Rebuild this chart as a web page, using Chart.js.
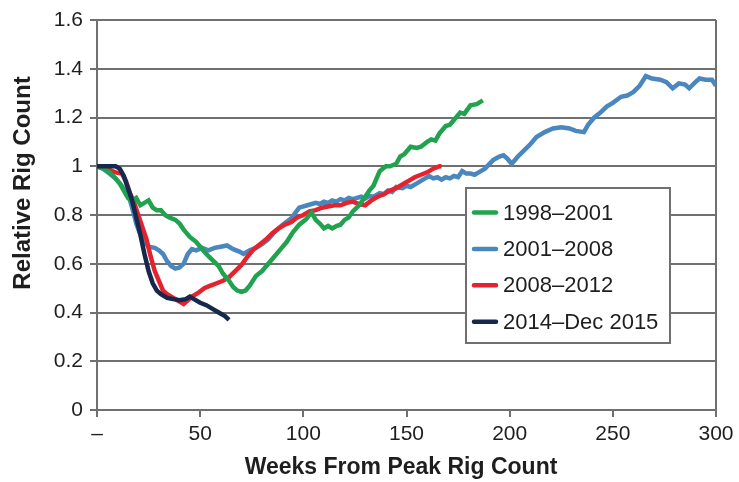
<!DOCTYPE html>
<html>
<head>
<meta charset="utf-8">
<script src="https://cdn.jsdelivr.net/npm/chart.js@4/dist/chart.umd.min.js"></script>
<style>
  html, body { margin: 0; padding: 0; background: #fff; }
  #chart { display: block; }
</style>
</head>
<body>
<canvas id="chart" width="739" height="482"></canvas>
<script>
// weeks from peak + relative rig count
const seriesLabels = ['1998\u20132001', '2001\u20132008', '2008\u20132012', '2014\u2013Dec 2015'];
const seriesColors = ['#20a24e', '#4a87be', '#e4232f', '#16284b'];

const weeks9801 = [0, 3, 6, 9, 11, 13, 15, 17, 19, 21, 23, 25, 27, 29, 31, 33, 35, 38, 40, 42, 45, 48, 50, 53, 56, 59, 61, 64, 66, 68, 70, 72, 74, 77, 80, 83, 86, 89, 92, 95, 98, 101, 104, 106, 108, 110, 112, 114, 116, 118, 120, 122, 124, 127, 130, 132, 134, 137, 140, 142, 145, 147, 149, 152, 155, 157, 160, 162, 164, 166, 169, 171, 173, 176, 178, 181, 184, 187];
const vals9801 = [1.0, 0.99, 0.975, 0.95, 0.93, 0.9, 0.87, 0.86, 0.87, 0.84, 0.85, 0.86, 0.83, 0.82, 0.82, 0.8, 0.79, 0.78, 0.765, 0.74, 0.71, 0.69, 0.67, 0.64, 0.615, 0.59, 0.56, 0.53, 0.505, 0.49, 0.485, 0.49, 0.51, 0.55, 0.57, 0.6, 0.63, 0.66, 0.69, 0.73, 0.76, 0.78, 0.81, 0.78, 0.765, 0.745, 0.755, 0.745, 0.755, 0.76, 0.78, 0.79, 0.815, 0.84, 0.875, 0.9, 0.92, 0.98, 1.0, 1.0, 1.01, 1.04, 1.05, 1.08, 1.075, 1.08, 1.1, 1.11, 1.105, 1.135, 1.165, 1.17, 1.19, 1.22, 1.215, 1.25, 1.255, 1.27];

const weeks0108 = [0, 3, 6, 9, 12, 14, 16, 18, 19, 21, 23, 25, 28, 30, 32, 34, 36, 38, 40, 42, 44, 46, 48, 51, 54, 57, 60, 63, 66, 69, 71, 74, 77, 80, 83, 86, 90, 94, 98, 102, 106, 108, 110, 112, 114, 116, 118, 120, 122, 124, 126, 128, 130, 132, 134, 137, 139, 141, 143, 145, 148, 150, 152, 155, 158, 161, 163, 165, 167, 169, 171, 173, 175, 177, 179, 181, 183, 185, 188, 192, 195, 197, 199, 201, 204, 207, 210, 213, 217, 221, 225, 229, 232, 236, 238, 241, 244, 247, 250, 254, 257, 260, 263, 266, 269, 273, 276, 279, 282, 285, 287, 290, 292, 295, 298, 300];
const vals0108 = [1.0, 0.99, 0.97, 0.95, 0.92, 0.89, 0.86, 0.8, 0.765, 0.72, 0.69, 0.67, 0.665, 0.655, 0.64, 0.61, 0.59, 0.58, 0.585, 0.6, 0.64, 0.66, 0.655, 0.665, 0.655, 0.665, 0.67, 0.675, 0.66, 0.65, 0.64, 0.655, 0.665, 0.68, 0.7, 0.73, 0.76, 0.785, 0.83, 0.84, 0.85, 0.845, 0.855, 0.85, 0.86, 0.855, 0.865, 0.86, 0.87, 0.865, 0.87, 0.875, 0.868, 0.878, 0.875, 0.89, 0.885, 0.9, 0.895, 0.915, 0.91, 0.92, 0.915, 0.93, 0.945, 0.96, 0.95, 0.955, 0.945, 0.955, 0.95, 0.96, 0.955, 0.98, 0.97, 0.97, 0.965, 0.975, 0.99, 1.025, 1.04, 1.045, 1.03, 1.01, 1.04, 1.065, 1.09, 1.12, 1.14, 1.155, 1.16, 1.155, 1.145, 1.14, 1.17, 1.2, 1.22, 1.245, 1.26, 1.285, 1.29, 1.305, 1.33, 1.37, 1.36, 1.355, 1.345, 1.32, 1.34, 1.335, 1.32, 1.345, 1.36, 1.355, 1.355, 1.33];

const weeks0812 = [0, 3, 6, 9, 12, 14, 16, 18, 20, 22, 24, 26, 28, 30, 32, 34, 37, 40, 42, 44, 46, 49, 52, 55, 58, 61, 64, 67, 70, 73, 76, 79, 82, 85, 88, 91, 94, 97, 100, 103, 106, 109, 112, 115, 118, 121, 124, 127, 130, 133, 136, 139, 142, 145, 148, 151, 154, 157, 160, 163, 166, 167];
const vals0812 = [1.0, 0.995, 0.985, 0.975, 0.97, 0.94, 0.89, 0.85, 0.8, 0.75, 0.7, 0.63, 0.57, 0.53, 0.49, 0.475, 0.46, 0.445, 0.435, 0.45, 0.465, 0.48, 0.5, 0.51, 0.52, 0.53, 0.545, 0.57, 0.595, 0.63, 0.66, 0.68, 0.7, 0.725, 0.745, 0.76, 0.77, 0.79, 0.8, 0.815, 0.82, 0.83, 0.835, 0.84, 0.84, 0.85, 0.855, 0.845, 0.84, 0.86, 0.875, 0.885, 0.9, 0.91, 0.925, 0.94, 0.955, 0.965, 0.975, 0.99, 1.0, 1.0];

const weeks1415 = [0, 3, 6, 9, 11, 13, 15, 17, 19, 21, 23, 25, 27, 29, 31, 34, 37, 40, 43, 45, 47, 50, 53, 56, 59, 62, 64];
const vals1415 = [1.0, 1.0, 1.0, 1.0, 0.99, 0.96, 0.91, 0.86, 0.79, 0.72, 0.64, 0.57, 0.52, 0.49, 0.475, 0.46, 0.455, 0.45, 0.455, 0.465, 0.455, 0.44, 0.43, 0.415, 0.4, 0.385, 0.37];

const xTicks = [0, 50, 100, 150, 200, 250, 300];
const yTicks = [0, 0.2, 0.4, 0.6, 0.8, 1, 1.2, 1.4, 1.6];

const allWeeks = [weeks9801, weeks0108, weeks0812, weeks1415];
const allVals = [vals9801, vals0108, vals0812, vals1415];
const drawOrder = [1, 3, 2, 0]; // dark line on top, then green, red, blue

const GRID = '#707070';
const TEXT = '#1e1e1e';

const datasets = seriesLabels.map((label, i) => ({
    label,
    data: allWeeks[i].map((w, j) => ({ x: w, y: allVals[i][j] })),
    borderColor: seriesColors[i],
    borderWidth: 4.5,
    pointRadius: 0,
    tension: 0,
    order: drawOrder[i]
}));

// legend box and axis titles drawn by hand so they sit where the figure has them
const extrasPlugin = {
    id: 'extras',
    afterDatasetsDraw(chart) {
        const ctx = chart.ctx;
        ctx.save();
        ctx.fillStyle = '#fff';
        ctx.fillRect(466, 188, 204, 155);
        ctx.strokeStyle = GRID;
        ctx.lineWidth = 2;
        ctx.strokeRect(466, 188, 204, 155);
        ctx.font = '22px "Liberation Sans", Arial, sans-serif';
        ctx.textBaseline = 'middle';
        ctx.textAlign = 'left';
        seriesLabels.forEach((label, i) => {
            const y = 212.5 + i * 36.4;
            ctx.strokeStyle = seriesColors[i];
            ctx.lineWidth = 4.5;
            ctx.lineCap = 'round';
            ctx.beginPath();
            ctx.moveTo(474, y);
            ctx.lineTo(496, y);
            ctx.stroke();
            ctx.fillStyle = TEXT;
            ctx.fillText(label, 503, y + 1);
        });
        ctx.restore();
    },
    afterDraw(chart) {
        const ctx = chart.ctx;
        ctx.save();
        ctx.fillStyle = TEXT;
        ctx.textAlign = 'center';
        ctx.textBaseline = 'middle';
        ctx.font = 'bold 23px "Liberation Sans", Arial, sans-serif';
        ctx.fillText('Weeks From Peak Rig Count', 401, 468);
        ctx.translate(23, 183);
        ctx.rotate(-Math.PI / 2);
        ctx.font = 'bold 24px "Liberation Sans", Arial, sans-serif';
        ctx.fillText('Relative Rig Count', 0, 0);
        ctx.restore();
    }
};

new Chart(document.getElementById('chart').getContext('2d'), {
    type: 'line',
    data: { datasets },
    options: {
        responsive: false,
        animation: false,
        layout: { padding: { top: 20, right: 23, left: 0, bottom: 0 } },
        plugins: { legend: { display: false }, tooltip: { enabled: false } },
        scales: {
            x: {
                type: 'linear',
                min: 0,
                max: 300,
                afterFit: s => { s.height = 72; },
                afterBuildTicks: s => { s.ticks = xTicks.map(v => ({ value: v })); },
                ticks: {
                    color: TEXT,
                    font: { family: '"Liberation Sans", Arial, sans-serif', size: 21 },
                    padding: 5,
                    maxRotation: 0,
                    callback: v => (v === 0 ? '\u2013' : v)
                },
                grid: {
                    color: c => (c.tick && c.tick.value === 300 ? GRID : 'transparent'),
                    lineWidth: 2,
                    tickColor: GRID,
                    tickWidth: 2,
                    tickLength: 7
                },
                border: { display: true, color: GRID, width: 2 }
            },
            y: {
                min: 0,
                max: 1.6,
                afterFit: s => { s.width = 97; },
                afterBuildTicks: s => { s.ticks = yTicks.map(v => ({ value: v })); },
                ticks: {
                    color: TEXT,
                    font: { family: '"Liberation Sans", Arial, sans-serif', size: 21 },
                    padding: 7,
                    callback: v => String(Number(v.toFixed(1)))
                },
                grid: {
                    color: GRID,
                    lineWidth: 2,
                    tickColor: GRID,
                    tickWidth: 2,
                    tickLength: 7
                },
                border: { display: true, color: GRID, width: 2 }
            }
        }
    },
    plugins: [extrasPlugin]
});
</script>
</body>
</html>
